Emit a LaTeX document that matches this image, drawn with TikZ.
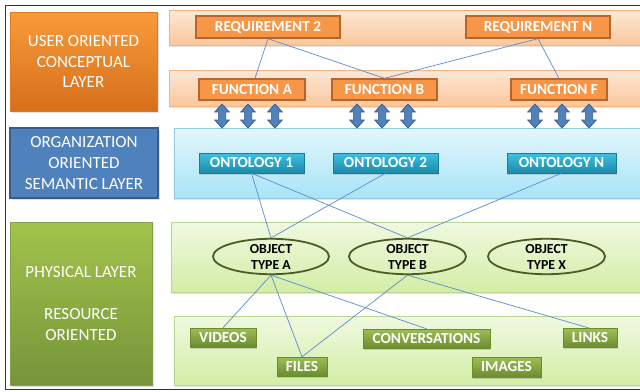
\documentclass[tikz,border=0pt]{standalone}
\usepackage{fontspec}
\setmainfont{Carlito}
\usetikzlibrary{shapes.geometric,shapes.arrows,shadows}
\definecolor{orgtop}{HTML}{F99B3A}
\definecolor{orgbot}{HTML}{D66F1C}
\definecolor{orgline}{HTML}{E07A20}
\definecolor{bluebox}{HTML}{4F81BD}
\definecolor{blueline}{HTML}{385D8A}
\definecolor{grntop}{HTML}{A2C44B}
\definecolor{grnbot}{HTML}{76943A}
\definecolor{reqtop}{HTML}{FDE8D6}
\definecolor{reqbot}{HTML}{FBC79C}
\definecolor{reqline}{HTML}{F8B27C}
\definecolor{onttop}{HTML}{E3F7FD}
\definecolor{ontbot}{HTML}{A8E4F7}
\definecolor{ontline}{HTML}{93CDDD}
\definecolor{objtop}{HTML}{F0F9E0}
\definecolor{objbot}{HTML}{D3EDA6}
\definecolor{objline}{HTML}{B9D68E}
\definecolor{onode}{HTML}{F79646}
\definecolor{onodeline}{HTML}{B4662E}
\definecolor{tealtop}{HTML}{3FC0E0}
\definecolor{tealbot}{HTML}{1C8AAA}
\definecolor{gntop}{HTML}{9DBF57}
\definecolor{gnbot}{HTML}{6B8C2D}
\definecolor{ellline}{HTML}{4A5E23}
\definecolor{conn}{HTML}{5B8BCE}
\definecolor{arrfill}{HTML}{4F81BD}
\begin{document}
\begin{tikzpicture}[x=1pt,y=-1pt,
  layerbox/.style={text=white, align=center, inner sep=0pt,
    font=\fontsize{17}{20.7}\selectfont,
    drop shadow={shadow xshift=1.5pt,shadow yshift=-1.5pt,opacity=0.25}},
  band/.style={line width=0.8pt,
    drop shadow={shadow xshift=0pt,shadow yshift=-1.5pt,opacity=0.2}},
  reqband/.style={band, top color=reqtop, bottom color=reqbot, draw=reqline},
  ontband/.style={band, top color=onttop, bottom color=ontbot, draw=ontline},
  objband/.style={band, top color=objtop, bottom color=objbot, draw=objline},
  nodetext/.style={text=white, inner sep=0pt, font=\bfseries\fontsize{15.3}{17}\selectfont},
  onodestyle/.style={nodetext, fill=onode, draw=onodeline, line width=1.3pt, minimum height=21pt},
  tnode/.style={nodetext, top color=tealtop, bottom color=tealbot, draw=tealbot!90!black, line width=0.4pt, minimum height=20pt,
    drop shadow={shadow xshift=1pt,shadow yshift=-1.5pt,opacity=0.3}},
  gnode/.style={nodetext, top color=gntop, bottom color=gnbot, draw=gnbot, line width=0.4pt, minimum height=19pt,
    drop shadow={shadow xshift=1pt,shadow yshift=-1.5pt,opacity=0.3}},
  objell/.style={ellipse, draw=ellline, line width=1.8pt, inner sep=0pt, align=center,
    minimum width=116pt, minimum height=33pt, font=\bfseries\fontsize{13.8}{16}\selectfont, text=black},
  dbl/.style={double arrow, draw=blueline, fill=arrfill, line width=0.7pt, rotate=90,
    minimum height=24pt, inner sep=3.3pt, double arrow head extend=3.6pt,
    double arrow tip angle=85},
  conline/.style={draw=conn, line width=0.7pt}
]
\useasboundingbox (0,0) rectangle (640,391);
\fill[white] (0,0) rectangle (640,391);

% frame
\draw[line width=1.3pt, black!80] (641,5.5) -- (5.5,5.5) -- (5.5,389.5) -- (641,389.5);

% left layer boxes
\node[layerbox, top color=orgtop, bottom color=orgbot, draw=orgline, line width=0.6pt,
  minimum width=147pt, minimum height=99pt] (L1) at (83.5,61.5) {USER ORIENTED\\CONCEPTUAL\\LAYER};
\node[layerbox, fill=bluebox, draw=blueline, line width=1.2pt,
  minimum width=148pt, minimum height=70pt] (L2) at (84,163) {ORGANIZATION\\ORIENTED\\SEMANTIC LAYER};
\node[layerbox, top color=grntop, bottom color=grnbot, draw=grnbot!90, line width=0.6pt,
  minimum width=142pt, minimum height=163pt] (L3) at (81,303.5) {PHYSICAL LAYER\\[20.7pt]RESOURCE\\ORIENTED};

% bands
\path[reqband] (169,10) rectangle (645,45);
\path[reqband] (169,70) rectangle (645,106);
\path[ontband] (174,128) rectangle (645,198);
\path[objband] (171,222) rectangle (645,292);
\path[objband] (174,316) rectangle (645,385);

% requirement / function nodes
\node[onodestyle, minimum width=144pt, minimum height=22pt] (R2) at (268,27) {REQUIREMENT 2};
\node[onodestyle, minimum width=144pt, minimum height=22pt] (RN) at (538,27) {REQUIREMENT N};
\node[onodestyle, minimum width=106pt] (FA) at (252,89.5) {FUNCTION A};
\node[onodestyle, minimum width=105pt] (FB) at (384.5,89.5) {FUNCTION B};
\node[onodestyle, minimum width=96pt] (FF) at (559,89.5) {FUNCTION F};

% ontology nodes
\node[tnode, minimum width=105pt] (O1) at (251.5,163) {ONTOLOGY 1};
\node[tnode, minimum width=105pt] (O2) at (385.5,163) {ONTOLOGY 2};
\node[tnode, minimum width=109pt] (ON) at (561.5,163) {ONTOLOGY N};

% object ellipses
\node[objell] (OA) at (271,256.5) {OBJECT\\TYPE A};
\node[objell, minimum width=117pt] (OB) at (407.5,256.5) {OBJECT\\TYPE B};
\node[objell, minimum width=117pt] (OX) at (546.5,256.5) {OBJECT\\TYPE X};

% resource nodes
\node[gnode, minimum width=66pt] (V) at (223,337.5) {VIDEOS};
\node[gnode, minimum width=50pt] (FI) at (302,366.5) {FILES};
\node[gnode, minimum width=127pt] (CO) at (426.5,338.5) {CONVERSATIONS};
\node[gnode, minimum width=54pt] (LI) at (590,338) {LINKS};
\node[gnode, minimum width=69pt, minimum height=20pt] (IM) at (506.5,367) {IMAGES};

% double arrows
\foreach \i/\x in {a1/222,a2/248,a3/275,b1/357,b2/382,b3/408,f1/535,f2/562,f3/589}
  \node[dbl] (\i) at (\x,116) {};

% connectors
\draw[conline] (R2.south) -- ([xshift=3pt]FA.north);
\draw[conline] (R2.south) -- (FB.north);
\draw[conline] (RN.south) -- (FB.north);
\draw[conline] (RN.south) -- (FF.north);
\draw[conline] (O1.south) -- (OA.north);
\draw[conline] (O1.south) -- (OB.north);
\draw[conline] (O2.south) -- (OA.north);
\draw[conline] (ON.south) -- (OB.north);
\draw[conline] (OA.south) -- (V.north);
\draw[conline] (OA.south) -- (FI.north);
\draw[conline] (OA.south) -- (CO.north);
\draw[conline] (OB.south) -- (FI.north);
\draw[conline] (OB.south) -- (LI.north);
\end{tikzpicture}
\end{document}
